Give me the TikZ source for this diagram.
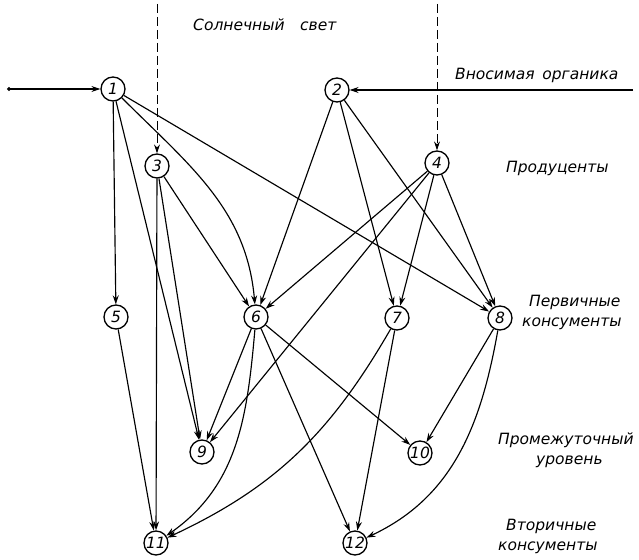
\documentclass[tikz,border=0pt]{standalone}
\usepackage{fontspec}
\setmainfont{DejaVu Sans}
\usetikzlibrary{arrows.meta}

\begin{document}
\begin{tikzpicture}[x=1pt,y=1pt,>={Stealth[length=9pt,width=6pt,inset=3pt]}]
  \tikzstyle{vertex}=[draw,circle,line width=1.3pt,minimum size=24pt,inner sep=0pt,font=\itshape\fontsize{15.5}{15.5}\selectfont]
  \tikzstyle{edge}=[line width=1.15pt,->]
  \tikzstyle{sunray}=[edge,line width=1pt,dash pattern=on 9pt off 4pt]
  \tikzstyle{levtext}=[font=\itshape\fontsize{15.5}{20}\selectfont,align=left,inner sep=0pt,anchor=west]
  \useasboundingbox (0,0) rectangle (639,-559);
  % trophic levels
  \foreach \n / \x / \y in {1/113/89,2/337/90,3/157/166,4/437/163,5/116/317,6/256/317,
                           7/397/318,8/500/318,9/202/452,10/420/453,11/156/543,12/355/543}
     \node[vertex] (v\n) at (\x,-\y) {\n};
  \coordinate (in1) at (7,-89);
  \coordinate (in2) at (633,-90);
  \coordinate (sun3) at (157,-4);
  \coordinate (sun4) at (437,-4);
  \draw[edge,{Circle[length=4pt]}->] (in1) -- (v1);
  \draw[edge] (in2) -- (v2);
  \draw[sunray] (sun3) -- (v3);
  \draw[sunray] (sun4) -- (v4);
  \foreach \a / \b in {1/5,1/9,1/8,2/6,2/7,2/8,3/6,3/9,3/11,4/6,4/7,4/8,4/9,
                       5/11,6/9,6/10,6/12,7/12,8/10}
     \draw[edge] (v\a) -- (v\b);
  \draw[edge] (v1) to[out=-45,in=95] (v6);
  \draw[edge] (v6) to[out=-95,in=35] (v11);
  \draw[edge] (v7) to[out=-120,in=25] (v11);
  \draw[edge] (v8) to[out=-100,in=25] (v12);
  % labels
  \node[levtext] (sun) at (193,-25) {Солнечный\quad свет};
  \node[levtext] (org) at (455,-75) {Вносимая\enspace органика};
  \node[levtext] (prod) at (506,-168) {Продуценты};
  \node[levtext] (prim) at (522,-312) {\hspace*{7pt}Первичные\\консументы};
  \node[levtext] (inter) at (498,-450) {Промежуточный\\\hspace*{38pt}уровень};
  \node[levtext] (secd) at (498,-536) {\hspace*{8pt}Вторичные\\консументы};
\end{tikzpicture}
\end{document}
